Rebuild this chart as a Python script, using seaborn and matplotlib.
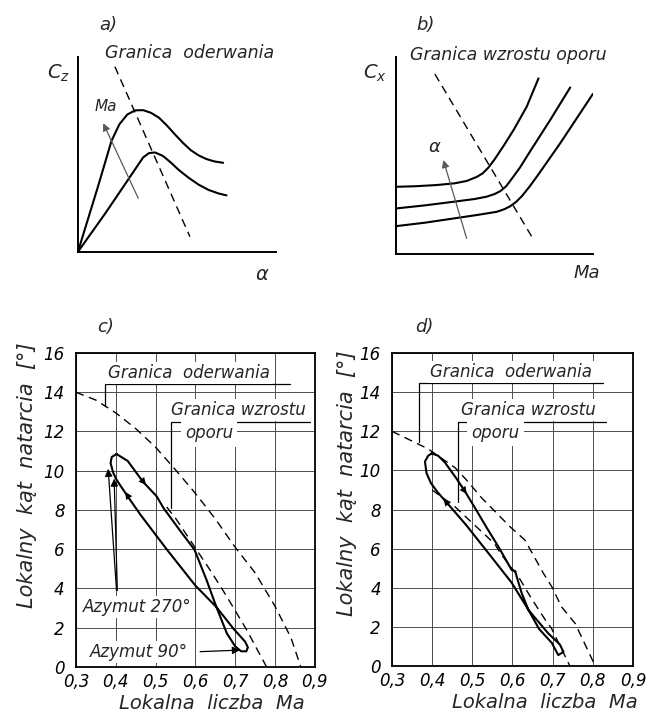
import numpy as np
import pandas as pd
import seaborn as sns
import matplotlib.pyplot as plt

# ---- a) Cz vs alpha, two Mach numbers (schematic, axes 0..1)
a_alpha_hi = [0.0, 0.10, 0.17, 0.21, 0.25, 0.29, 0.33, 0.37, 0.41, 0.45, 0.49, 0.53, 0.57, 0.61, 0.65, 0.69, 0.734]
a_cz_hi = [0.0, 0.33, 0.57, 0.655, 0.705, 0.726, 0.727, 0.713, 0.688, 0.648, 0.603, 0.56, 0.522, 0.495, 0.476, 0.464, 0.457]
a_alpha_lo = [0.0, 0.14, 0.26, 0.30, 0.33, 0.36, 0.39, 0.43, 0.47, 0.51, 0.56, 0.61, 0.66, 0.71, 0.751]
a_cz_lo = [0.0, 0.20, 0.38, 0.44, 0.485, 0.507, 0.51, 0.492, 0.458, 0.42, 0.38, 0.345, 0.318, 0.30, 0.29]
a_limit_x = [0.187, 0.566]
a_limit_y = [0.95, 0.078]

# ---- b) Cx vs Ma, three angles of attack (schematic)
b_ma_1 = [0.0, 0.1, 0.207, 0.3, 0.36, 0.41, 0.44, 0.47, 0.50, 0.55, 0.60, 0.664, 0.724]
b_cx_1 = [0.342, 0.345, 0.351, 0.36, 0.372, 0.392, 0.41, 0.44, 0.48, 0.555, 0.635, 0.749, 0.893]
b_ma_2 = [0.0, 0.15, 0.292, 0.40, 0.461, 0.50, 0.53, 0.56, 0.59, 0.63, 0.68, 0.783, 0.885]
b_cx_2 = [0.232, 0.248, 0.266, 0.28, 0.292, 0.305, 0.32, 0.345, 0.385, 0.44, 0.52, 0.681, 0.847]
b_ma_3 = [0.0, 0.15, 0.292, 0.42, 0.512, 0.55, 0.58, 0.61, 0.64, 0.68, 0.72, 0.834, 1.0]
b_cx_3 = [0.142, 0.16, 0.181, 0.20, 0.215, 0.228, 0.243, 0.265, 0.295, 0.345, 0.40, 0.563, 0.814]
b_limit_x = [0.198, 0.698]
b_limit_y = [0.915, 0.075]

# ---- c) local angle of attack vs local Mach
c_loop_ma = [0.402, 0.418, 0.43, 0.468, 0.503, 0.52, 0.56, 0.598, 0.628, 0.653, 0.679, 0.700, 0.715,
             0.728, 0.732, 0.725, 0.695, 0.653, 0.60, 0.529, 0.462, 0.427, 0.402, 0.394, 0.387, 0.39, 0.402]
c_loop_aoa = [10.85, 10.65, 10.5, 9.45, 8.69, 8.1, 6.99, 5.97, 4.44, 3.05, 1.72, 1.05, 0.8,
              0.8, 1.0, 1.29, 1.97, 3.05, 4.15, 5.97, 7.76, 8.78, 9.54, 9.88, 10.39, 10.7, 10.85]
c_sep_ma = [0.3, 0.35, 0.4, 0.45, 0.5, 0.55, 0.6, 0.65, 0.7, 0.75, 0.8, 0.84, 0.865]
c_sep_aoa = [14.0, 13.6, 12.95, 12.15, 11.2, 10.05, 8.85, 7.55, 6.1, 4.8, 3.1, 1.5, 0.0]
c_drag_ma = [0.528, 0.553, 0.603, 0.64, 0.679, 0.73, 0.779]
c_drag_aoa = [8.15, 7.5, 5.97, 4.85, 3.59, 1.85, 0.0]

# ---- d)
d_loop_ma = [0.399, 0.415, 0.432, 0.46, 0.482, 0.507, 0.535, 0.565, 0.598, 0.607, 0.61, 0.623, 0.64,
             0.666, 0.698, 0.714, 0.727, 0.718, 0.689, 0.64, 0.598, 0.532, 0.485, 0.445, 0.43,
             0.413, 0.397, 0.386, 0.382, 0.39, 0.399]
d_loop_aoa = [10.87, 10.75, 10.4, 9.6, 8.92, 8.07, 7.1, 6.1, 4.91, 4.85, 4.6, 3.72, 2.86,
              1.9, 1.18, 0.56, 0.72, 1.1, 1.67, 2.86, 4.26, 5.98, 7.2, 8.15, 8.5,
              8.9, 9.35, 9.86, 10.45, 10.75, 10.87]
d_sep_ma = [0.3, 0.32, 0.39, 0.457, 0.486, 0.523, 0.594, 0.631, 0.677, 0.698, 0.722, 0.756, 0.806]
d_sep_aoa = [12.0, 11.8, 11.1, 10.14, 9.5, 8.6, 7.12, 6.44, 4.74, 4.05, 3.03, 2.18, 0.0]
d_drag_ma = [0.40, 0.41, 0.457, 0.556, 0.57, 0.615, 0.647, 0.682, 0.697, 0.743]
d_drag_aoa = [9.0, 8.85, 8.14, 6.24, 5.76, 4.56, 3.46, 2.35, 1.93, 0.0]

ma_ticks = [0.3, 0.4, 0.5, 0.6, 0.7, 0.8, 0.9]
ma_labels = ['0,3', '0,4', '0,5', '0,6', '0,7', '0,8', '0,9']
aoa_ticks = [0, 2, 4, 6, 8, 10, 12, 14, 16]

sns.set_theme(style='white')
plt.rcParams['font.family'] = ['DejaVu Sans']
plt.rcParams['font.style'] = 'italic'
plt.rcParams['mathtext.default'] = 'it'

fig = plt.figure(figsize=(6.49, 7.26), dpi=100)
fig.patch.set_facecolor('white')

axA = fig.add_axes([0.120, 0.653, 0.305, 0.2686])
axB = fig.add_axes([0.610, 0.650, 0.3035, 0.271])
axC = fig.add_axes([0.117, 0.0813, 0.368, 0.4325])
axD = fig.add_axes([0.604, 0.0826, 0.3713, 0.4311])

solid = dict(color='black', lw=1.5, sort=False, estimator=None)
dashed = dict(color='black', lw=1.0, sort=False, estimator=None, linestyle=(0, (6, 4)))


def head(ax, tip, tail):
    ax.annotate('', xy=tip, xytext=tail,
                arrowprops=dict(arrowstyle='-|>', color='black', lw=0.01,
                                mutation_scale=13, shrinkA=0, shrinkB=0))


def thin_arrow(ax, tip, tail, color='0.35'):
    ax.annotate('', xy=tip, xytext=tail,
                arrowprops=dict(arrowstyle='-|>', color=color, lw=0.9,
                                mutation_scale=11, shrinkA=0, shrinkB=0))


# ---------- a)
sns.lineplot(x=a_alpha_hi, y=a_cz_hi, ax=axA, **solid)
sns.lineplot(x=a_alpha_lo, y=a_cz_lo, ax=axA, **solid)
sns.lineplot(x=a_limit_x, y=a_limit_y, ax=axA, **dashed)
thin_arrow(axA, (0.128, 0.66), (0.305, 0.275))
axA.text(0.143, 0.745, 'Ma', fontsize=11, ha='center', va='center')
axA.text(0.11, 1.164, 'a)', fontsize=13, ha='left', va='center', clip_on=False)
axA.text(0.136, 1.02, 'Granica  oderwania', fontsize=12.5, ha='left', va='center', clip_on=False)
axA.text(-0.096, 0.918, '$C_z$', fontsize=14, ha='center', va='center')
axA.text(0.934, -0.118, r'$\alpha$', fontsize=14, ha='center', va='center')

# ---------- b)
for xs, ys in [(b_ma_1, b_cx_1), (b_ma_2, b_cx_2), (b_ma_3, b_cx_3)]:
    sns.lineplot(x=xs, y=ys, ax=axB, **solid)
sns.lineplot(x=b_limit_x, y=b_limit_y, ax=axB, **dashed)
thin_arrow(axB, (0.241, 0.478), (0.359, 0.08))
axB.text(0.198, 0.546, r'$\alpha$', fontsize=13, ha='center', va='center')
axB.text(0.105, 1.164, 'b)', fontsize=13, ha='left', va='center', clip_on=False)
axB.text(0.071, 1.01, 'Granica wzrostu oporu', fontsize=12.5, ha='left', va='center', clip_on=False)
axB.text(-0.107, 0.92, '$C_x$', fontsize=14, ha='center', va='center')
axB.text(0.97, -0.097, 'Ma', fontsize=13, ha='center', va='center')

for ax in (axA, axB):
    ax.set_xlim(0, 1)
    ax.set_ylim(0, 1)
    ax.set_xticks([])
    ax.set_yticks([])
    ax.set_xlabel('')
    ax.set_ylabel('')
    for s in ('top', 'right'):
        ax.spines[s].set_visible(False)
    for s in ('left', 'bottom'):
        ax.spines[s].set_linewidth(1.4)
        ax.spines[s].set_color('black')

# ---------- c) and d)
box = dict(facecolor='white', edgecolor='none', pad=1.5)

sns.lineplot(x=c_loop_ma, y=c_loop_aoa, ax=axC, **solid)
sns.lineplot(x=c_sep_ma, y=c_sep_aoa, ax=axC, **dashed)
sns.lineplot(x=c_drag_ma, y=c_drag_aoa, ax=axC, **dashed)
head(axC, (0.476, 9.28), (0.462, 9.62))
head(axC, (0.424, 8.92), (0.440, 8.40))
thin_arrow(axC, (0.381, 10.1), (0.402, 3.9), color='black')
thin_arrow(axC, (0.396, 9.6), (0.404, 3.9), color='black')
axC.text(0.318, 3.08, 'Azymut 270°', fontsize=12, ha='left', va='center', bbox=box)
axC.text(0.335, 0.78, 'Azymut 90°', fontsize=12, ha='left', va='center', bbox=box)
thin_arrow(axC, (0.712, 0.86), (0.612, 0.78), color='black')
axC.text(0.38, 15.0, 'Granica  oderwania', fontsize=12, ha='left', va='center', bbox=box)
axC.plot([0.373, 0.373, 0.838], [13.3, 14.4, 14.4], color='black', lw=0.9)
axC.text(0.54, 13.1, 'Granica wzrostu', fontsize=12, ha='left', va='center', bbox=box)
axC.text(0.574, 11.9, 'oporu', fontsize=12, ha='left', va='center',
         bbox=dict(facecolor='white', edgecolor='none', pad=3))
axC.plot([0.54, 0.54, 0.888], [8.1, 12.46, 12.46], color='black', lw=0.9)
axC.text(0.088, 1.083, 'c)', fontsize=13, transform=axC.transAxes, va='center')

sns.lineplot(x=d_loop_ma, y=d_loop_aoa, ax=axD, **solid)
sns.lineplot(x=d_sep_ma, y=d_sep_aoa, ax=axD, **dashed)
sns.lineplot(x=d_drag_ma, y=d_drag_aoa, ax=axD, **dashed)
head(axD, (0.486, 8.80), (0.474, 9.15))
head(axD, (0.428, 8.55), (0.445, 8.15))
axD.text(0.395, 15.05, 'Granica  oderwania', fontsize=12, ha='left', va='center', bbox=box)
axD.plot([0.366, 0.366, 0.826], [11.45, 14.45, 14.45], color='black', lw=0.9)
axD.text(0.473, 13.09, 'Granica wzrostu', fontsize=12, ha='left', va='center', bbox=box)
axD.text(0.498, 11.9, 'oporu', fontsize=12, ha='left', va='center',
         bbox=dict(facecolor='white', edgecolor='none', pad=3))
axD.plot([0.465, 0.465, 0.834], [8.4, 12.49, 12.49], color='black', lw=0.9)
axD.text(0.095, 1.083, 'd)', fontsize=13, transform=axD.transAxes, va='center')

for ax, lx, ly, xx in [(axC, -0.163, 0.61, 0.57), (axD, -0.145, 0.583, 0.635)]:
    ax.set_xlim(0.3, 0.9)
    ax.set_ylim(0, 16)
    ax.set_xticks(ma_ticks)
    ax.set_xticklabels(ma_labels)
    ax.set_yticks(aoa_ticks)
    ax.tick_params(length=0, labelsize=12, colors='black')
    ax.tick_params(axis='y', pad=8)
    ax.tick_params(axis='x', pad=4)
    ax.grid(True, color='0.3', lw=0.7)
    ax.set_axisbelow(True)
    for s in ax.spines.values():
        s.set_linewidth(1.3)
        s.set_color('black')
    ax.set_xlabel('Lokalna  liczba  Ma', fontsize=14)
    ax.set_ylabel('Lokalny  kąt  natarcia  [°]', fontsize=15)
    ax.yaxis.set_label_coords(lx, ly)
    ax.xaxis.set_label_coords(xx, -0.085)

fig.savefig('out.png', dpi=100, facecolor='white')
